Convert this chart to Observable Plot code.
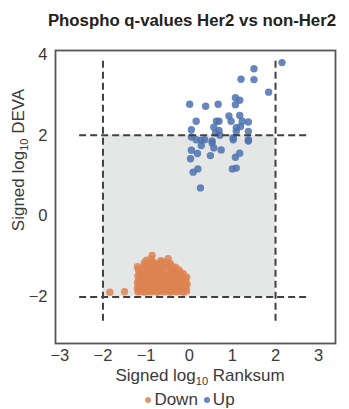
<!DOCTYPE html>
<html><head><meta charset="utf-8">
<script src="https://cdn.jsdelivr.net/npm/d3@7"></script>
<script src="https://cdn.jsdelivr.net/npm/@observablehq/plot@0.6"></script>
<style>
body{margin:0;background:#fff;overflow:hidden;font-family:"Liberation Sans",Arial,sans-serif;}
#wrap{position:relative;width:349px;height:409px;}
#chart{position:absolute;left:0;top:0;}
#title{position:absolute;top:11px;left:35px;width:314px;text-align:center;font-weight:bold;font-size:16.8px;color:#222;white-space:nowrap;}
#legend{position:absolute;top:390px;left:90px;width:200px;display:flex;justify-content:center;align-items:center;font-size:17px;color:#3a3a3a;white-space:nowrap;}
.sw{display:inline-block;width:6px;height:6px;border-radius:50%;margin-right:3px;}
</style></head><body>
<div id="wrap"><div id="chart"></div><div id="title">Phospho q-values Her2 vs non-Her2</div><div id="legend"></div></div>
<script>
const categories = ["Down", "Up"];
const colors = ["#dd8452", "#4c72b0"];
const xTicks = [-3, -2, -1, 0, 1, 2, 3];
const yTicks = [-2, 0, 2, 4];
const threshold = 2;

const upPoints = [
[1.50,3.65],[1.50,3.38],[1.20,3.39],[0.01,2.77],[0.38,2.72],[0.67,2.77],[1.07,2.93],[1.17,2.87],[1.07,2.76],
[0.16,2.35],[0.63,2.35],[0.69,2.35],[0.92,2.48],[0.97,2.35],[1.17,2.49],[1.23,2.35],[1.37,2.33],
[0.05,2.14],[0.57,2.20],[0.69,2.12],[0.61,2.06],[1.09,2.19],[1.19,2.22],[1.09,2.10],[1.37,2.10],
[0.05,1.96],[0.16,1.89],[0.28,1.88],[0.36,1.89],[0.28,1.75],[0.53,1.86],[0.53,1.81],[0.71,2.00],
[1.02,1.94],[1.02,1.89],[1.37,1.89],[1.37,1.86],[0.57,1.69],[0.74,1.64],[0.05,1.63],[0.19,1.55],
[0.03,1.42],[0.49,1.50],[1.17,1.56],[1.07,1.46],[0.20,1.17],[0.09,1.09],[1.00,1.17],[1.09,1.19],
[0.26,0.70],[2.15,3.80],[1.84,3.07]
];

const downPoints = [
[-1.84,-1.88],[-1.50,-1.87],
[-1.19,-1.87],[-1.12,-1.86],[-1.04,-1.88],[-0.97,-1.86],[-0.89,-1.87],[-0.82,-1.85],[-0.74,-1.88],[-0.67,-1.86],[-0.59,-1.87],[-0.51,-1.85],[-0.44,-1.88],[-0.36,-1.86],[-0.29,-1.87],[-0.21,-1.86],[-0.13,-1.88],[-0.06,-1.85],
[-1.20,-1.79],[-1.13,-1.81],[-1.06,-1.78],[-0.98,-1.80],[-0.91,-1.82],[-0.83,-1.79],[-0.76,-1.81],[-0.68,-1.78],[-0.61,-1.80],[-0.53,-1.81],[-0.46,-1.79],[-0.38,-1.82],[-0.31,-1.78],[-0.23,-1.80],[-0.16,-1.81],[-0.08,-1.79],
[-1.18,-1.72],[-1.10,-1.70],[-1.03,-1.73],[-0.95,-1.71],[-0.87,-1.74],[-0.80,-1.70],[-0.72,-1.72],[-0.64,-1.73],[-0.57,-1.70],[-0.49,-1.72],[-0.42,-1.74],[-0.34,-1.71],[-0.26,-1.72],[-0.19,-1.70],[-0.11,-1.73],[-0.05,-1.69],
[-1.20,-1.64],[-1.12,-1.62],[-1.05,-1.65],[-0.97,-1.63],[-0.90,-1.61],[-0.82,-1.64],[-0.75,-1.62],[-0.67,-1.65],[-0.60,-1.63],[-0.52,-1.61],[-0.44,-1.64],[-0.37,-1.62],[-0.29,-1.65],[-0.21,-1.63],[-0.14,-1.60],[-0.07,-1.64],
[-1.17,-1.56],[-1.09,-1.54],[-1.01,-1.57],[-0.93,-1.55],[-0.86,-1.53],[-0.78,-1.56],[-0.70,-1.54],[-0.63,-1.57],[-0.55,-1.55],[-0.47,-1.53],[-0.40,-1.56],[-0.32,-1.54],[-0.24,-1.57],[-0.17,-1.53],[-0.09,-1.55],
[-1.19,-1.48],[-1.11,-1.46],[-1.03,-1.49],[-0.96,-1.47],[-0.88,-1.45],[-0.81,-1.48],[-0.73,-1.46],[-0.65,-1.49],[-0.58,-1.47],[-0.50,-1.45],[-0.42,-1.48],[-0.35,-1.46],[-0.27,-1.49],[-0.19,-1.45],[-0.06,-1.51],
[-1.16,-1.40],[-1.08,-1.38],[-1.00,-1.41],[-0.92,-1.39],[-0.84,-1.37],[-0.76,-1.40],[-0.69,-1.38],[-0.61,-1.41],[-0.45,-1.39],[-0.38,-1.37],[-0.30,-1.40],[-0.22,-1.38],[-0.14,-1.42],
[-1.18,-1.32],[-1.07,-1.30],[-0.98,-1.33],[-0.90,-1.31],[-0.81,-1.29],[-0.72,-1.32],[-0.63,-1.30],[-0.46,-1.31],[-0.39,-1.29],[-0.31,-1.32],[-0.24,-1.33],
[-1.20,-1.25],[-1.05,-1.23],[-0.95,-1.22],[-0.86,-1.24],[-0.78,-1.21],[-0.68,-1.23],[-0.59,-1.25],[-0.50,-1.22],[-0.41,-1.24],[-0.32,-1.26],
[-1.04,-1.15],[-0.94,-1.17],[-0.84,-1.14],[-0.72,-1.16],[-0.62,-1.13],[-0.52,-1.15],[-0.44,-1.17],
[-0.99,-1.09],[-0.88,-1.06],[-0.66,-1.10],[-0.49,-1.05],
[-0.86,-0.97]
];

const points = [
  ...downPoints.map(([x, y]) => ({x, y, dir: "Down"})),
  ...upPoints.map(([x, y]) => ({x, y, dir: "Up"}))
];
const box = [{x1: -threshold, x2: threshold, y1: -threshold, y2: threshold}];
const vLines = [{x: -threshold, y1: -2.6, y2: 3.86}, {x: threshold, y1: -2.6, y2: 3.86}];
const hLines = [{y: -threshold, x1: -2.54, x2: 2.81}, {y: threshold, x1: -2.54, x2: 2.81}];

const plot = Plot.plot({
  width: 349, height: 409,
  marginTop: 50, marginBottom: 66, marginLeft: 55, marginRight: 14,
  style: {fontFamily: '"Liberation Sans", Arial, sans-serif', fontSize: "16.5px", color: "#3a3a3a", background: "transparent"},
  x: {domain: [-3.1, 3.39], ticks: xTicks, tickFormat: d3.format("d"), tickSize: 0, tickPadding: 6, label: null},
  y: {domain: [-3.15, 4.1], ticks: yTicks, tickFormat: d3.format("d"), tickSize: 0, tickPadding: 8, label: null},
  color: {domain: categories, range: colors},
  marks: [
    Plot.rect(box, {x1: "x1", x2: "x2", y1: "y1", y2: "y2", fill: "#e5e6e6"}),
    Plot.dot(points, {x: "x", y: "y", fill: "dir", r: 3.7, fillOpacity: 0.85}),
    Plot.ruleX(vLines, {x: "x", y1: "y1", y2: "y2", stroke: "#404040", strokeWidth: 2, strokeDasharray: "7,4"}),
    Plot.ruleY(hLines, {y: "y", x1: "x1", x2: "x2", stroke: "#404040", strokeWidth: 2, strokeDasharray: "7,4"}),
    Plot.frame({stroke: "#555", strokeWidth: 1.8})
  ]
});
document.getElementById("chart").appendChild(plot);

const svg = d3.select(plot);
const xl = svg.append("text").attr("x", 200).attr("y", 381).attr("text-anchor", "middle")
  .attr("fill", "#3a3a3a").style("font-size", "17px");
xl.append("tspan").text("Signed log");
xl.append("tspan").attr("dy", 4).style("font-size", "11px").text("10");
xl.append("tspan").attr("dy", -4).text(" Ranksum");

const yl = svg.append("text").attr("transform", "translate(24,160) rotate(-90)").attr("text-anchor", "middle")
  .attr("fill", "#3a3a3a").style("font-size", "17px");
yl.append("tspan").text("Signed log");
yl.append("tspan").attr("dy", 4).style("font-size", "11px").text("10");
yl.append("tspan").attr("dy", -4).text(" DEVA");

const legend = d3.select("#legend");
categories.forEach((c, i) => {
  const item = legend.append("span").style("display", "inline-flex").style("align-items", "center")
    .style("margin-right", i === 0 ? "6px" : "0");
  item.append("span").attr("class", "sw").style("background", colors[i]).style("opacity", 0.85);
  item.append("span").text(c);
});
</script>
</body></html>
